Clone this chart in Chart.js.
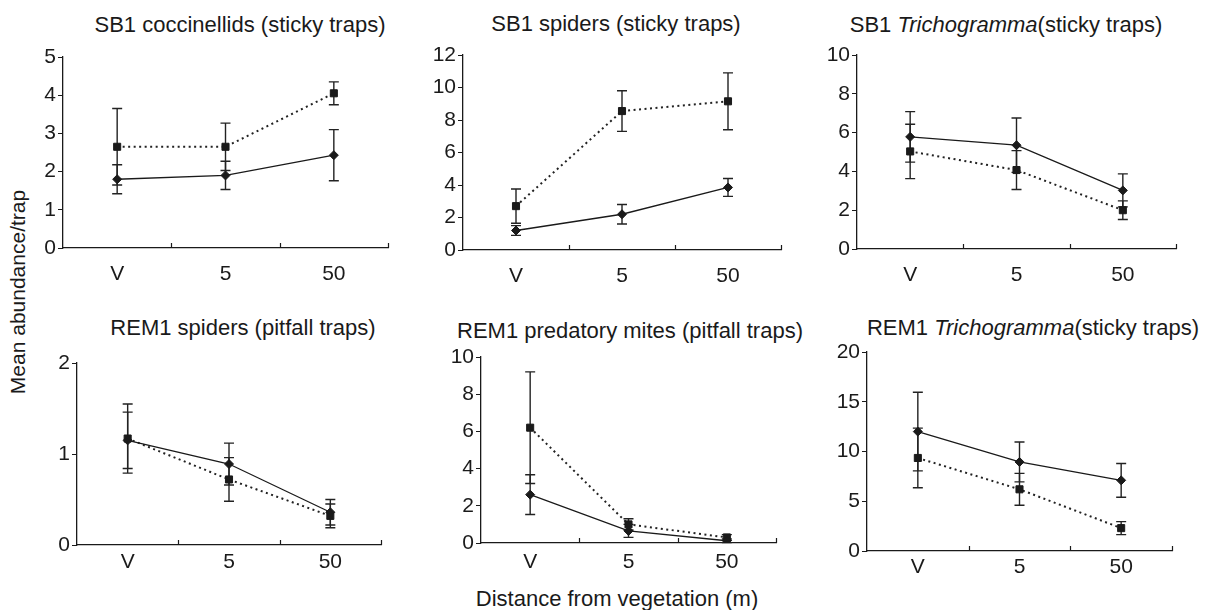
<!DOCTYPE html>
<html>
<head>
<meta charset="utf-8">
<script src="https://cdn.jsdelivr.net/npm/chart.js@4.4.1/dist/chart.umd.min.js"></script>
<style>
  body { margin: 0; background: #fff; }
  #wrap { position: relative; width: 1209px; height: 610px; overflow: hidden; font-family: 'Liberation Sans', Arial, sans-serif; color: #1a1a1a; }
  .panel { position: absolute; }
  .ttl { position: absolute; font-size: 22px; white-space: nowrap; transform: translate(-50%, -50%); }
  .ylab { position: absolute; font-size: 21px; white-space: nowrap; transform: translate(-50%, -50%) rotate(-90deg); }
  .xlab { position: absolute; font-size: 22px; white-space: nowrap; transform: translate(-50%, -50%); }
</style>
</head>
<body>
<div id="wrap">
  <div class="ylab" style="left:18px; top:292px;">Mean abundance/trap</div>
  <div class="xlab" style="left:617px; top:599px;">Distance from vegetation (m)</div>
</div>
<script>
'use strict';

// x categories (distance from vegetation)
let distances = ['V', '5', '50'];

// SB1 coccinellids (sticky traps)
let coccDiamond = [1.8, 1.9, 2.43];
let coccDiamondErr = [0.38, 0.37, 0.67];
let coccSquare = [2.65, 2.65, 4.05];
let coccSquareErr = [1.0, 0.62, 0.3];

// SB1 spiders (sticky traps)
let sb1SpidDiamond = [1.2, 2.2, 3.85];
let sb1SpidDiamondErr = [0.3, 0.6, 0.55];
let sb1SpidSquare = [2.7, 8.55, 9.15];
let sb1SpidSquareErr = [1.05, 1.25, 1.75];

// SB1 Trichogramma (sticky traps)
let sb1TrichDiamond = [5.78, 5.35, 3.02];
let sb1TrichDiamondErr = [1.3, 1.4, 0.85];
let sb1TrichSquare = [5.03, 4.07, 2.0];
let sb1TrichSquareErr = [1.4, 1.0, 0.48];

// REM1 spiders (pitfall traps)
let remSpidDiamond = [1.15, 0.89, 0.36];
let remSpidDiamondErr = [0.31, 0.23, 0.14];
let remSpidSquare = [1.17, 0.72, 0.32];
let remSpidSquareErr = [0.38, 0.24, 0.13];

// REM1 predatory mites (pitfall traps)
let mitesDiamond = [2.6, 0.65, 0.12];
let mitesDiamondErr = [1.07, 0.35, 0.1];
let mitesSquare = [6.2, 1.0, 0.3];
let mitesSquareErr = [3.0, 0.3, 0.15];

// REM1 Trichogramma (sticky traps)
let remTrichDiamond = [12.0, 8.95, 7.1];
let remTrichDiamondErr = [3.95, 2.0, 1.7];
let remTrichSquare = [9.35, 6.2, 2.3];
let remTrichSquareErr = [3.0, 1.6, 0.65];

// y axis ranges
let yMaxes = [5, 12, 10, 2, 10, 20];
let ySteps = [1, 2, 2, 1, 2, 5];

let ink = '#1a1a1a';
let fontFam = "'Liberation Sans', Arial, sans-serif";

// vertical error bars with caps, drawn under the markers
let errorBars = {
  id: 'errorBars',
  beforeDatasetsDraw(chart) {
    let ctx = chart.ctx;
    let yScale = chart.scales.y;
    ctx.save();
    ctx.strokeStyle = '#222';
    ctx.lineWidth = 1.4;
    chart.data.datasets.forEach((ds, i) => {
      let meta = chart.getDatasetMeta(i);
      meta.data.forEach((pt, j) => {
        let v = ds.data[j];
        let e = ds.errors[j];
        let top = yScale.getPixelForValue(v + e);
        let bot = yScale.getPixelForValue(Math.max(0, v - e));
        ctx.beginPath();
        ctx.moveTo(pt.x, top);
        ctx.lineTo(pt.x, bot);
        ctx.moveTo(pt.x - 5, top);
        ctx.lineTo(pt.x + 5, top);
        ctx.moveTo(pt.x - 5, bot);
        ctx.lineTo(pt.x + 5, bot);
        ctx.stroke();
      });
    });
    ctx.restore();
  }
};

// small inward tick marks on the x axis between categories
let innerTicks = {
  id: 'innerTicks',
  afterDraw(chart) {
    let ctx = chart.ctx;
    let xs = chart.scales.x;
    let n = chart.data.labels.length;
    ctx.save();
    ctx.strokeStyle = ink;
    ctx.lineWidth = 1.2;
    ctx.beginPath();
    for (let i = 1; i <= n; i++) {
      let x = Math.round(xs.left + i * xs.width / n) + 0.5;
      ctx.moveTo(x, xs.top);
      ctx.lineTo(x, xs.top - 5);
    }
    ctx.stroke();
    ctx.restore();
  }
};

let panels = [
  { title: ['SB1 coccinellids (sticky traps)'], tx: 240, ty: 25, area: [63, 57, 388, 248], xPad: 14,
    dia: coccDiamond, diaErr: coccDiamondErr, sq: coccSquare, sqErr: coccSquareErr },
  { title: ['SB1 spiders (sticky traps)'], tx: 616, ty: 24, area: [463, 55, 781, 250], xPad: 14,
    dia: sb1SpidDiamond, diaErr: sb1SpidDiamondErr, sq: sb1SpidSquare, sqErr: sb1SpidSquareErr },
  { title: ['SB1 ', 'Trichogramma', '(sticky traps)'], tx: 1006, ty: 25, area: [857, 55, 1176, 249], xPad: 14,
    dia: sb1TrichDiamond, diaErr: sb1TrichDiamondErr, sq: sb1TrichSquare, sqErr: sb1TrichSquareErr },
  { title: ['REM1 spiders (pitfall traps)'], tx: 243, ty: 328, area: [77, 363, 381, 545], xPad: 5,
    dia: remSpidDiamond, diaErr: remSpidDiamondErr, sq: remSpidSquare, sqErr: remSpidSquareErr },
  { title: ['REM1 predatory mites (pitfall traps)'], tx: 630, ty: 331, area: [481, 357, 776, 543], xPad: 7,
    dia: mitesDiamond, diaErr: mitesDiamondErr, sq: mitesSquare, sqErr: mitesSquareErr },
  { title: ['REM1 ', 'Trichogramma', '(sticky traps)'], tx: 1033, ty: 328, area: [867, 352, 1172, 551], xPad: 4,
    dia: remTrichDiamond, diaErr: remTrichDiamondErr, sq: remTrichSquare, sqErr: remTrichSquareErr }
];

let wrap = document.getElementById('wrap');
let yAxisW = 50;
let xAxisH = 45;
let padTop = 15;
let padRight = 12;

function renderPanel(p, k) {
  // title (middle segment italic when split in three)
  let t = document.createElement('div');
  t.className = 'ttl';
  t.style.left = p.tx + 'px';
  t.style.top = p.ty + 'px';
  if (p.title.length === 3) {
    t.innerHTML = p.title[0] + '<i>' + p.title[1] + '</i>' + p.title[2];
  } else {
    t.textContent = p.title[0];
  }
  wrap.appendChild(t);

  let [l, tp, r, b] = p.area;
  let box = document.createElement('div');
  box.className = 'panel';
  box.style.left = (l - yAxisW) + 'px';
  box.style.top = (tp - padTop) + 'px';
  box.style.width = (r - l + yAxisW + padRight) + 'px';
  box.style.height = (b - tp + padTop + xAxisH) + 'px';
  let cv = document.createElement('canvas');
  box.appendChild(cv);
  wrap.appendChild(box);

  new Chart(cv, { //eslint-disable-line
    type: 'line',
    data: {
      labels: distances,
      datasets: [
        {
          label: 'diamond',
          data: p.dia,
          errors: p.diaErr,
          borderColor: ink,
          borderWidth: 1.3,
          pointStyle: 'rectRot',
          pointRadius: 4.5,
          pointBackgroundColor: ink,
          pointBorderColor: ink,
          pointBorderWidth: 1,
          tension: 0
        },
        {
          label: 'square',
          data: p.sq,
          errors: p.sqErr,
          borderColor: '#222',
          borderWidth: 2,
          borderDash: [2, 3.5],
          pointStyle: 'rect',
          pointRadius: 5,
          pointBackgroundColor: ink,
          pointBorderColor: ink,
          pointBorderWidth: 1,
          tension: 0
        }
      ]
    },
    options: {
      responsive: true,
      maintainAspectRatio: false,
      animation: false,
      events: [],
      layout: { padding: { top: padTop, right: padRight, left: 0, bottom: 0 } },
      plugins: {
        legend: { display: false },
        tooltip: { enabled: false },
        title: { display: false }
      },
      scales: {
        x: {
          type: 'category',
          offset: true,
          grid: { drawOnChartArea: false, drawTicks: false },
          border: { display: true, color: ink, width: 1.3 },
          ticks: { color: ink, padding: p.xPad, font: { family: fontFam, size: 21 } },
          afterFit(scale) { scale.height = xAxisH; }
        },
        y: {
          min: 0,
          max: yMaxes[k],
          grid: { drawOnChartArea: false, drawTicks: true, tickLength: 5, color: ink },
          border: { display: true, color: ink, width: 1.3 },
          ticks: { stepSize: ySteps[k], color: ink, padding: 2, font: { family: fontFam, size: 21 } },
          afterFit(scale) { scale.width = yAxisW; }
        }
      }
    },
    plugins: [errorBars, innerTicks]
  });
}

for (let i = 0; i < panels.length; i++) {
  renderPanel(panels[i], i);
}
</script>
</body>
</html>
